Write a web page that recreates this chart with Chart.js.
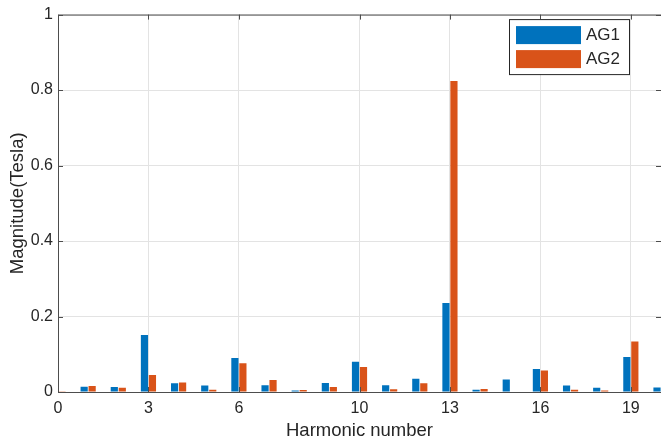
<!DOCTYPE html>
<html>
<head>
<meta charset="utf-8">
<script src="https://cdn.jsdelivr.net/npm/chart.js@4/dist/chart.umd.min.js"></script>
<style>
  html, body { margin: 0; padding: 0; background: #fff; }
  canvas { display: block; }
</style>
</head>
<body>
<canvas id="harmonics" width="661" height="445"></canvas>
<script>
// harmonic order and field magnitude (Tesla) for each air gap
const harmonics = [0, 1, 2, 3, 4, 5, 6, 7, 8, 9, 10, 11, 12, 13, 14, 15, 16, 17, 18, 19, 20]
const ag1 = [0, 0.014, 0.013, 0.151, 0.023, 0.017, 0.090, 0.018, 0.004, 0.024, 0.080, 0.018, 0.035, 0.236, 0.006, 0.033, 0.061, 0.017, 0.011, 0.093, 0.012]
const ag2 = [0.002, 0.016, 0.011, 0.045, 0.025, 0.006, 0.076, 0.032, 0.005, 0.013, 0.066, 0.007, 0.023, 0.824, 0.008, 0.001, 0.057, 0.006, 0.004, 0.134, 0.005]
const xTicks = [0, 3, 6, 10, 13, 16, 19]
const yTicks = [0, 0.2, 0.4, 0.6, 0.8, 1]

const seriesNames = ['AG1', 'AG2']
const seriesColors = ['#0072BD', '#D95319']

const FONT = "'Liberation Sans', Arial, Helvetica, sans-serif"
const TEXT = '#262626'
const AXIS = '#4d4d4d'

const canvas = document.getElementById('harmonics')

function points(values) {
    return harmonics.map((h, i) => ({ x: h, y: values[i] }))
}

// box outline + inward tick marks, drawn over the bars
const axesFrame = {
    id: 'axesFrame',
    afterDatasetsDraw(chart) {
        const ctx = chart.ctx
        const a = chart.chartArea
        const xs = chart.scales.x
        const ys = chart.scales.y
        const tl = 5
        ctx.save()
        ctx.strokeStyle = AXIS
        ctx.lineWidth = 1
        ctx.beginPath()
        ctx.moveTo(a.left + 0.5, a.bottom + 0.5)
        ctx.lineTo(a.left + 0.5, a.top + 0.5)
        ctx.lineTo(a.right, a.top + 0.5)
        ctx.moveTo(a.left, a.bottom + 0.5)
        ctx.lineTo(a.right, a.bottom + 0.5)
        xTicks.forEach(v => {
            const px = Math.round(xs.getPixelForValue(v)) + 0.5
            ctx.moveTo(px, a.bottom)
            ctx.lineTo(px, a.bottom - tl)
            ctx.moveTo(px, a.top)
            ctx.lineTo(px, a.top + tl)
        })
        yTicks.forEach(v => {
            const py = Math.round(ys.getPixelForValue(v)) + 0.5
            ctx.moveTo(a.left, py)
            ctx.lineTo(a.left + tl, py)
            ctx.moveTo(a.right, py)
            ctx.lineTo(a.right - tl, py)
        })
        ctx.stroke()
        ctx.restore()
    }
}

// boxed legend in the upper right corner of the axes
const boxedLegend = {
    id: 'boxedLegend',
    afterDraw(chart) {
        const ctx = chart.ctx
        const a = chart.chartArea
        const bx = a.right - 152, by = a.top + 4.5
        const bw = 120, bh = 55
        ctx.save()
        ctx.fillStyle = '#fff'
        ctx.fillRect(bx, by, bw, bh)
        ctx.strokeStyle = TEXT
        ctx.lineWidth = 1
        ctx.strokeRect(bx + 0.5, by + 0.5, bw, bh)
        ctx.font = '17px ' + FONT
        ctx.textBaseline = 'middle'
        ctx.textAlign = 'left'
        chart.data.datasets.forEach((ds, i) => {
            const rowY = by + 7 + i * 24
            ctx.fillStyle = ds.backgroundColor
            ctx.fillRect(bx + 7, rowY, 65, 18)
            ctx.fillStyle = TEXT
            ctx.fillText(ds.label, bx + 77, rowY + 9.5)
        })
        ctx.restore()
    }
}

new Chart(canvas, {
    type: 'bar',
    data: {
        datasets: [
            { label: seriesNames[0], data: points(ag1), backgroundColor: seriesColors[0], borderWidth: 0 },
            { label: seriesNames[1], data: points(ag2), backgroundColor: seriesColors[1], borderWidth: 0 }
        ]
    },
    options: {
        responsive: false,
        animation: false,
        devicePixelRatio: 1,
        categoryPercentage: 0.53,
        barPercentage: 0.9,
        layout: { padding: { top: 13, right: 0, left: 0, bottom: 0 } },
        plugins: {
            legend: { display: false },
            tooltip: { enabled: false }
        },
        scales: {
            x: {
                type: 'linear',
                min: 0,
                max: 20,
                offset: false,
                grid: { offset: false, color: '#e3e3e3', drawTicks: false },
                border: { display: false },
                afterBuildTicks: scale => { scale.ticks = xTicks.map(v => ({ value: v })) },
                afterFit: scale => { scale.height = 53 },
                ticks: {
                    padding: 7,
                    color: TEXT,
                    font: { family: FONT, size: 16 },
                    maxRotation: 0,
                    autoSkip: false
                },
                title: {
                    display: true,
                    text: 'Harmonic number',
                    color: TEXT,
                    font: { family: FONT, size: 18.5 },
                    padding: { top: 0, bottom: 3 }
                }
            },
            y: {
                min: 0,
                max: 1,
                grid: { color: '#e3e3e3', drawTicks: false },
                border: { display: false },
                afterBuildTicks: scale => { scale.ticks = yTicks.map(v => ({ value: v })) },
                afterFit: scale => { scale.width = 58 },
                ticks: {
                    padding: 5,
                    color: TEXT,
                    font: { family: FONT, size: 16 },
                    callback: v => String(+v.toFixed(1))
                },
                title: {
                    display: true,
                    text: 'Magnitude(Tesla)',
                    color: TEXT,
                    font: { family: FONT, size: 18.5 },
                    padding: { top: 7, bottom: 0 }
                }
            }
        }
    },
    plugins: [axesFrame, boxedLegend]
})
</script>
</body>
</html>
